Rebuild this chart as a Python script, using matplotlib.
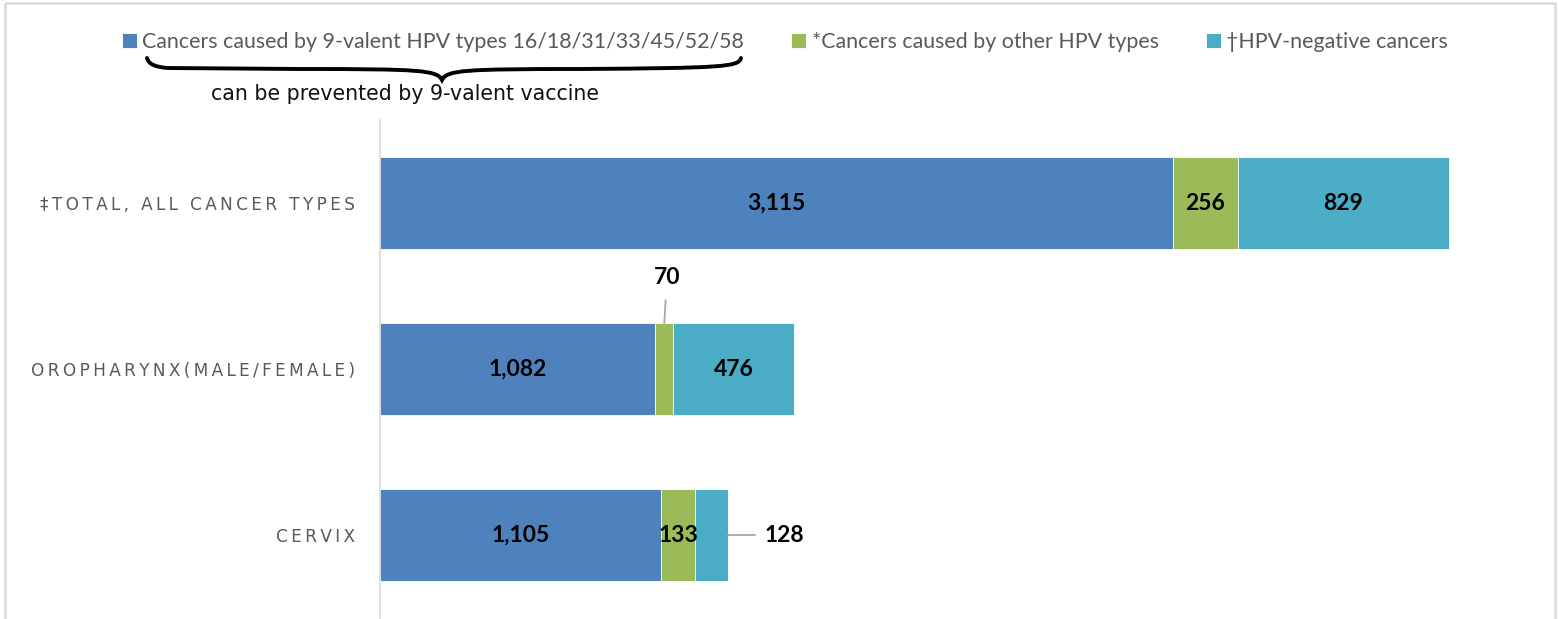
import matplotlib.pyplot as plt
import matplotlib.transforms as mtransforms
from matplotlib.path import Path
from matplotlib.patches import PathPatch, Rectangle

# data (bottom to top)
categories = ['CERVIX', 'OROPHARYNX(MALE/FEMALE)', '\u2021TOTAL, ALL CANCER TYPES']
hpv9 = [1105, 1082, 3115]
other_hpv = [133, 70, 256]
hpv_neg = [128, 476, 829]
series_names = ['Cancers caused by 9-valent HPV types 16/18/31/33/45/52/58',
                '*Cancers caused by other HPV types',
                '\u2020HPV-negative cancers']
colors = ['#4F81BD', '#9BBB59', '#4BACC6']

W, H = 1559, 619
fig = plt.figure(figsize=(W / 100, H / 100), dpi=100)
# pixel transform (origin top-left) for decorations
px = mtransforms.Affine2D().scale(1, -1).translate(0, H).scale(1 / W, 1 / H) + fig.transFigure

ax = fig.add_axes([380 / W, 1 / H, (1540 - 380) / W, (618 - 120) / H])
y = range(len(categories))
bh = 0.554
left = [0] * 3
bars = []
for vals, c, name in zip([hpv9, other_hpv, hpv_neg], colors, series_names):
    b = ax.barh(y, vals, left=left, height=bh, color=c, edgecolor='white',
                linewidth=0.6, label=name)
    bars.append(b)
    left = [l + v for l, v in zip(left, vals)]


def track(s):
    # Excel-style letter spacing
    return '\u2009'.join(s)


ax.set_xlim(0, (1540 - 380) / 0.2545)
ax.set_ylim(-0.5, 2.5)
ax.set_yticks(list(y))
ax.set_yticklabels([track(c) for c in categories], fontsize=12.2,
                   color='#595959', fontfamily='DejaVu Sans')
ax.tick_params(axis='y', length=0, pad=18)
ax.set_xticks([])
for s in ['top', 'right', 'bottom']:
    ax.spines[s].set_visible(False)
ax.spines['left'].set_color('#D9D9D9')
ax.spines['left'].set_linewidth(1.2)

lab = dict(fontsize=16.5, fontweight='bold', family='Lato', color='black',
           ha='center', va='center')


def fmt(v):
    return f'{v:,}'


# labels inside segments
for i in y:
    ax.text(hpv9[i] / 2, i, fmt(hpv9[i]), **lab)
    if i != 1:
        ax.text(hpv9[i] + other_hpv[i] / 2, i, fmt(other_hpv[i]), **lab)
    if i != 0:
        ax.text(hpv9[i] + other_hpv[i] + hpv_neg[i] / 2, i, fmt(hpv_neg[i]), **lab)

# callout labels
ax.annotate(fmt(other_hpv[1]), xy=(hpv9[1] + other_hpv[1] / 2, 1 + bh / 2),
            xytext=(2, 33), textcoords='offset points',
            arrowprops=dict(arrowstyle='-', color='#A6A6A6', lw=1.3,
                            shrinkA=7, shrinkB=0), **lab)
tot0 = hpv9[0] + other_hpv[0] + hpv_neg[0]
ax.annotate(fmt(hpv_neg[0]), xy=(tot0, 0), xytext=(41, 0),
            textcoords='offset points',
            arrowprops=dict(arrowstyle='-', color='#A6A6A6', lw=1.3,
                            shrinkA=5, shrinkB=0), **lab)

# legend
fig.legend(handles=bars, labels=series_names, loc='center',
           bbox_to_anchor=(785 / W, 1 - 42 / H), ncol=3, frameon=False,
           labelcolor='#595959', handlelength=0.7,
           handleheight=0.7, handletextpad=0.25, columnspacing=2.2,
           prop={'family': 'Lato', 'size': 15.4})

# curly brace under first legend entry
verts = [(147, 58), (149, 67), (168, 68), (300, 69),
         (420, 69), (437, 70), (442, 80),
         (447, 70), (464, 69), (580, 69),
         (722, 68), (739, 67), (741, 58)]
codes = [Path.MOVETO, Path.CURVE3, Path.CURVE3, Path.LINETO,
         Path.CURVE4, Path.CURVE4, Path.CURVE4,
         Path.CURVE4, Path.CURVE4, Path.CURVE4,
         Path.CURVE4, Path.CURVE4, Path.CURVE4]
fig.patches.append(PathPatch(Path(verts, codes), transform=px, fill=False,
                             edgecolor='black', lw=2.8, capstyle='round'))
fig.text(405, 94, 'can be prevented by 9-valent vaccine', transform=px,
         ha='center', va='center', fontsize=14.8, family='DejaVu Sans',
         color='#111111')

# outer chart border
fig.patches.append(Rectangle((5, 3), 1550, 700, transform=px, fill=False,
                             edgecolor='#D9D9D9', lw=1.8))

fig.savefig('out.png', dpi=100)
